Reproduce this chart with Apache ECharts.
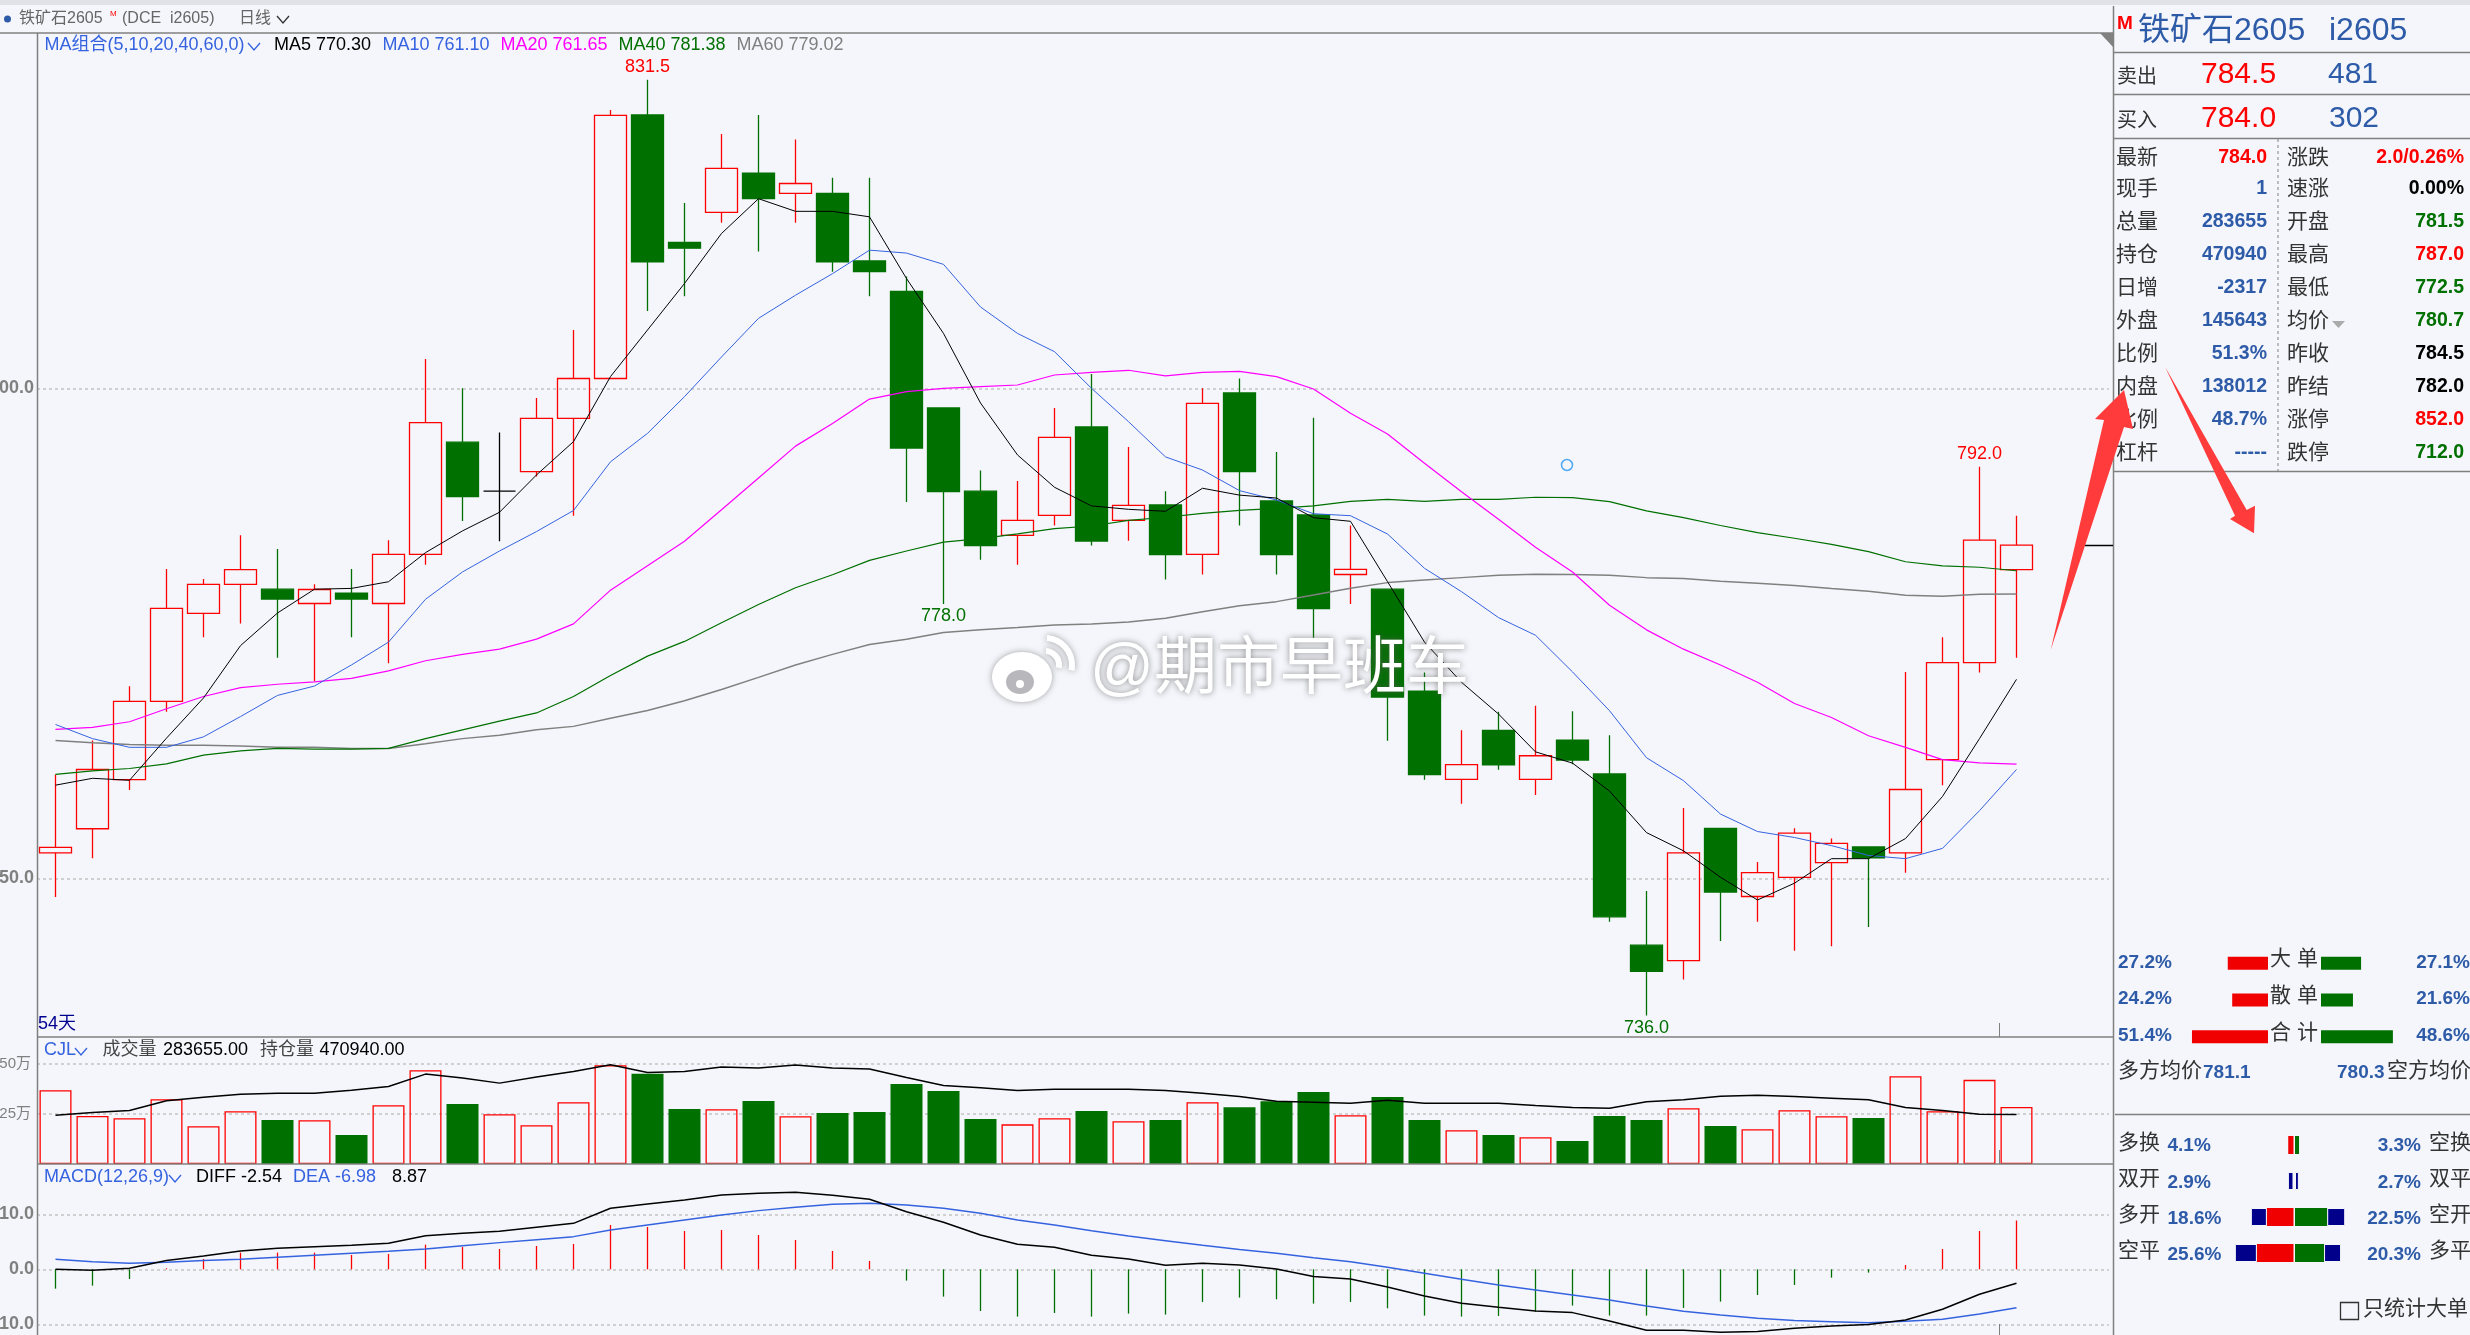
<!DOCTYPE html>
<html>
<head>
<meta charset="utf-8">
<title>铁矿石2605</title>
<script src="https://cdn.jsdelivr.net/npm/echarts@6/dist/echarts.min.js"></script>
<style>
html, body { margin: 0; padding: 0; background: #F5F6FB; }
#container { width: 2470px; height: 1335px; }
</style>
</head>
<body>
<div id="container"></div>
<script>
// candles
var opens = [752.6,755.05,760.06,768.05,777.04,780,779.5,778.04,779.1,778.04,783.05,794.5,789.5,791.5,796.94,801,827.9,814.9,817.96,821.97,819.9,819.9,813,809.9,798,789.5,785,787.04,796.05,786.53,788.09,783.06,799.52,788.5,787.07,781,779.5,769.1,760.1,765.1,760.1,764.1,760.64,743.17,741.6,755.1,748.14,750.1,751.6,753.2,752.6,762.1,772,781.5];
var closes = [753.15,761.1,768.05,777.54,780,781.5,778.5,779.47,778.5,783.05,796.5,788.95,789.5,796.94,801,827.86,812.9,814.3,822.45,819.35,820.9,812.9,811.9,793.9,789.45,783.95,786.53,795,784.42,788.06,783.03,798.47,791.5,783.03,777.52,781.53,768.5,760.57,761.6,761.57,762.5,762.07,746.06,740.5,752.6,748.6,750.58,754.6,753.55,752.08,759.06,772,784.5,784];
var lows = [748.1,752.05,759,767,774.6,776,772.5,770.1,774.6,771.95,782,786.45,784.4,791,787,801,807.9,809.4,816.9,813.95,816.9,811.9,809.4,788.4,778,782.5,782,786,783.95,784.45,780.5,781,786,781,774.55,778,764.04,760.06,757.6,761.07,758.5,761.64,745.56,736,739.66,743.6,745.56,742.6,743.06,745.03,750.57,759.5,771,772.5];
var highs = [760.6,764.07,769.6,781.55,780.54,785,783.6,780,781.55,784.5,803,800,795.5,799,805.95,828.4,831.5,818.9,825.95,827.9,825.4,821.5,821.5,811.4,798,791.6,790.54,798,801.46,794,789.5,800,801,793.5,797,786,779.5,771,765.1,767,767.6,767.05,764.6,748.7,757.16,755.1,751.65,755.1,754.05,753.2,771.05,774.6,792,787];

// moving averages
var ma5 = [759.5,760.2,760,764.3,768.4,773.74,777.07,779.5,779.58,780.26,783.23,785.45,787.35,791.16,794.56,801.2,805.95,810.7,815.8,819.35,818.06,818.06,817.5,811.2,805.6,798.5,793.2,789.9,788,787.65,787.45,789.8,789.1,788.8,786.8,786.43,780.27,774.1,770,766.76,762.9,761.75,758.9,754.66,752.8,750.1,747.78,749.5,752,752,754.05,758.35,764.25,770.3];
var ma10 = [765.69,764.25,763.36,763.36,764.43,766.5,768.66,769.62,771.77,774.1,778.47,781.26,783.4,785.38,787.53,792.5,795.4,799.15,803.2,807.14,809.5,811.7,814.1,813.8,812.65,808.3,805.6,803.74,800,796.6,793,791.66,789.56,788.6,787.2,787,785.13,781.63,779.25,776.6,774.8,771.06,767.1,762.3,759.96,756.55,754.77,754.16,753.33,752.33,752,753.05,756.9,761.1];
var ma20 = [765.2,765.4,765.97,767.3,768.55,769.45,769.8,770.05,770.4,771.16,772.2,772.85,773.38,774.4,775.96,779.4,781.9,784.4,787.6,790.85,794.1,796.4,798.9,799.66,800,800.17,800.34,801.36,801.63,801.84,801.26,801.63,801.73,801.19,799.93,797.45,795.34,792.35,789.45,786.63,783.77,781.26,777.86,775.35,773.38,771.77,770,767.83,766.4,764.54,763.36,762.1,761.78,761.65];
var ma40 = [760.6,760.96,761.2,761.67,762.57,763,763.25,763.18,763.18,763.25,764.25,765.15,766.04,766.87,768.55,770.7,772.67,774.17,776.07,777.93,779.65,780.97,782.44,783.4,784.3,784.66,785.14,785.68,785.95,786.53,786.84,787.24,787.55,787.75,788,788.47,788.67,788.47,788.67,788.67,788.88,788.84,788.44,787.5,786.8,786,785.27,784.7,784.08,783.33,782.3,781.87,781.74,781.38];
var ma60 = [764.07,763.82,763.64,763.57,763.57,763.5,763.36,763.36,763.25,763.25,763.72,764.25,764.6,765.15,765.5,766.33,767.12,768.12,769.27,770.5,771.77,772.85,773.85,774.39,775.07,775.35,775.58,775.85,775.95,776.16,776.53,777.2,777.82,778.23,778.9,779.59,780.17,780.44,780.68,780.92,781.02,780.99,780.92,780.68,780.58,780.31,780.1,779.87,779.56,779.29,778.88,778.78,778.98,779.02];

// volume (万手) and open interest (万手, own hidden scale)
var volume = [36.65,23.88,22.72,32.17,18.74,26.2,21.89,21.72,14.43,29.19,46.6,29.85,24.7,19.24,30.68,49.1,44.78,27.36,27.2,31.34,23.7,25.37,25.87,39.8,36.3,22.4,19.7,22.7,26.37,21.23,21.89,30.68,28.2,31.18,35.8,24.2,33.3,21.89,16.8,14.43,13.27,11.44,23.88,21.89,27.7,18.9,17.25,26.7,23.7,22.9,43.6,26.2,41.8,28.37];
var openInterest = [46.89,47.69,48.29,51.19,52.29,53.19,53.49,53.49,54.39,55.49,59.19,57.99,56.49,58.29,59.99,61.99,59.69,59.99,61.29,60.99,61.89,60.99,60.69,58.19,55.79,55.09,54.29,54.69,54.69,54.69,54.29,53.49,52.49,51.09,50.79,50.49,51.39,50.49,50.49,50.49,49.79,49.19,48.99,50.89,51.49,52.59,52.89,52.49,51.99,51.49,49.19,48.29,47.19,47.094];

// MACD
var diff = [0,-0.18,0.18,1.58,2.42,3.33,3.82,4.12,4.36,4.73,6.12,6.55,6.91,7.64,8.36,11.09,11.88,12.6,13.52,13.82,14,13.45,12.73,10.48,8.55,6.24,4.55,4,2.55,1.88,0.73,1.09,0.79,0.06,-1.33,-1.76,-3.21,-4.85,-6.18,-6.91,-7.58,-7.88,-9.39,-11.09,-11.09,-11.45,-11.33,-10.73,-10.3,-10.06,-9.21,-7.27,-4.55,-2.54];
var dea = [1.82,1.39,1.09,1.27,1.58,1.82,2.18,2.55,2.91,3.27,3.7,4.3,4.85,5.39,5.94,7.15,8.06,8.97,9.88,10.67,11.27,11.82,12,11.7,11.09,10.18,8.97,8.06,7.03,6.06,5.21,4.36,3.58,2.91,2.12,1.39,0.36,-0.73,-1.82,-2.85,-3.76,-4.67,-5.58,-6.67,-7.64,-8.3,-8.91,-9.33,-9.52,-9.7,-9.45,-9.09,-8.12,-6.98];
var macdHist = [-3.52,-2.97,-1.76,0.18,1.88,3.03,3.03,3.03,2.61,2.79,4.48,4.06,3.7,4.24,4.61,8.06,7.7,6.97,7.15,6.24,5.33,3.33,1.52,-2.06,-4.97,-7.58,-8.6,-7.94,-8.6,-8.06,-8.24,-5.94,-5.15,-5.45,-6.24,-5.94,-7.09,-8.42,-8.6,-8.48,-7.7,-6.6,-8.42,-8.42,-7.03,-5.88,-4.67,-2.85,-1.52,-0.6,0.79,3.7,6.97,8.87];

// labelled extremes: candle index, price, high or low
var extremeIndex = [16, 24, 43, 52];
var extremePrice = [831.5, 778.0, 736.0, 792.0];
var extremeIsHigh = [true, false, false, true];

var priceTicks = [750, 800];
var volumeTicks = [25, 50];
var macdTicks = [-10, 0, 10];

// side panel numbers
var quoteLeft = [['最新','784.0'],['现手','1'],['总量','283655'],['持仓','470940'],['日增','-2317'],['外盘','145643'],['比例','51.3%'],['内盘','138012'],['比例','48.7%'],['杠杆','-----']];
var quoteRight = [['涨跌','2.0/0.26%'],['速涨','0.00%'],['开盘','781.5'],['最高','787.0'],['最低','772.5'],['均价','780.7'],['昨收','784.5'],['昨结','782.0'],['涨停','852.0'],['跌停','712.0']];
var quoteRightColor = ['r','k','g','r','g','g','k','k','r','g'];

var orderRows = ['大 单', '散 单', '合 计'];
var orderBuy = [27.2, 24.2, 51.4];
var orderSell = [27.1, 21.6, 48.6];

var flowRows = ['换', '双', '开', '平'];
var flowLeftNames = ['多换', '双开', '多开', '空平'];
var flowRightNames = ['空换', '双平', '空开', '多平'];
var flowLeftPct = [4.1, 2.9, 18.6, 25.6];
var flowRightPct = [3.3, 2.7, 22.5, 20.3];
var flowLeftRed = [4.1, 0, 18.6, 25.6];
var flowLeftBlue = [0, 3.9, 11.2, 15.4];
var flowRightGreen = [3.3, 0, 22.5, 20.3];
var flowRightBlue = [0, 2.7, 12.6, 11.9];

var RED = '#FF0000', GREEN = '#007000', BLUE = '#2E5BA8', LINEBLUE = '#3563E0', GREY = '#808080', NAVY = '#000090', BG = '#F5F6FB';
var FONT = '"Liberation Sans","Noto Sans CJK SC",sans-serif';

var categories = opens.map(function (v, i) { return String(i + 1); }).concat(['+1', '+2']);
var candleData = opens.map(function (v, i) { return [v, closes[i], lows[i], highs[i]]; });

function upDown(i) { return closes[i] >= opens[i]; }

var volumeData = volume.map(function (v, i) {
    return upDown(i)
        ? { value: v, itemStyle: { color: 'rgba(0,0,0,0)', borderColor: RED, borderWidth: 1.3 } }
        : { value: v, itemStyle: { color: GREEN } };
});
var histData = macdHist.map(function (v) {
    return { value: v, itemStyle: { color: v >= 0 ? RED : GREEN } };
});
var extremeData = extremeIndex.map(function (idx, i) {
    var hi = extremeIsHigh[i];
    return {
        coord: [idx, extremePrice[i]],
        symbolSize: 1,
        itemStyle: { color: 'rgba(0,0,0,0)' },
        label: {
            show: true, formatter: extremePrice[i].toFixed(1), position: hi ? 'top' : 'bottom', distance: 3,
            color: hi ? RED : GREEN, fontSize: 18, fontFamily: FONT
        }
    };
});

function maLine(name, data, color, width) {
    return {
        name: name, type: 'line', data: data, xAxisIndex: 0, yAxisIndex: 0,
        symbol: 'none', z: 5, silent: true,
        lineStyle: { color: color, width: width || 1 }
    };
}

// text and decoration on top of the chart
var g = [];
function txt(x, y, s, color, size, align, weight) {
    g.push({
        type: 'text', x: x, y: y, z: 50, silent: true,
        style: {
            text: s, fill: color, align: align || 'left', verticalAlign: 'middle',
            fontSize: size, fontFamily: FONT, fontWeight: weight || 'normal'
        }
    });
}
function seg(x1, y1, x2, y2, color, w) {
    g.push({
        type: 'line', z: 40, silent: true,
        shape: { x1: x1, y1: y1, x2: x2, y2: y2 },
        style: { stroke: color || GREY, lineWidth: w || 1.5 }
    });
}
function chevron(x, y, color) {
    g.push({
        type: 'polyline', z: 50, silent: true,
        shape: { points: [[x, y], [x + 6, y + 7], [x + 12, y]] },
        style: { stroke: color, lineWidth: 1.3, fill: null }
    });
}
function poly(pts, color, z) {
    g.push({ type: 'polygon', z: z || 60, silent: true, shape: { points: pts }, style: { fill: color } });
}

// frame
g.push({ type: 'rect', z: 40, silent: true, shape: { x: 0, y: 0, width: 2470, height: 5 }, style: { fill: '#E1E2E7' } });
seg(0, 33, 2113, 33);
seg(37.5, 33, 37.5, 1335);
seg(37.5, 1037, 2113, 1037);
seg(37.5, 1164, 2113, 1164);
seg(2113.5, 6, 2113.5, 1335);
poly([[2100, 33], [2113, 33], [2113, 47]], GREY, 41);
seg(1999.5, 1023, 1999.5, 1037, GREY, 1);
seg(1999.5, 1150, 1999.5, 1164, GREY, 1);
seg(1999.5, 1324, 1999.5, 1335, GREY, 1);
seg(2085, 545.5, 2113, 545.5, '#000', 1.5);

// header
g.push({ type: 'circle', z: 50, silent: true, shape: { cx: 7.5, cy: 19, r: 3.5 }, style: { fill: '#2E5BA8' } });
txt(19, 19, '铁矿石2605', '#666', 16);
txt(110, 14, 'M', RED, 8);
txt(122, 19, '(DCE  i2605)', '#666', 16);
txt(239, 19, '日线', '#666', 16);
chevron(277, 16, '#333');

// MA legend
txt(44.5, 45, 'MA组合(5,10,20,40,60,0)', LINEBLUE, 18);
chevron(248, 43, LINEBLUE);
txt(274, 45, 'MA5 770.30', '#000', 18);
txt(382.5, 45, 'MA10 761.10', LINEBLUE, 18);
txt(500.5, 45, 'MA20 761.65', '#FF00FF', 18);
txt(618.5, 45, 'MA40 781.38', GREEN, 18);
txt(736.5, 45, 'MA60 779.02', GREY, 18);
txt(38, 1024.5, '54天', NAVY, 18);

// volume legend
txt(44, 1050, 'CJL', LINEBLUE, 18);
chevron(75, 1048, LINEBLUE);
txt(102.5, 1050, '成交量', '#444', 18);
txt(163, 1050, '283655.00', '#000', 18);
txt(260, 1050, '持仓量', '#444', 18);
txt(319.5, 1050, '470940.00', '#000', 18);

// MACD legend
txt(44, 1177, 'MACD(12,26,9)', LINEBLUE, 18);
chevron(169, 1175, LINEBLUE);
txt(196, 1177, 'DIFF -2.54', '#000', 18);
txt(293, 1177, 'DEA -6.98', LINEBLUE, 18);
txt(392, 1177, '8.87', '#000', 18);

// side panel head
txt(2117, 24, 'M', RED, 19, 'left', 'bold');
txt(2138, 31, '铁矿石2605', BLUE, 32);
txt(2329, 31, 'i2605', BLUE, 32);
seg(2114, 52.5, 2470, 52.5);
seg(2114, 94.5, 2470, 94.5);
seg(2114, 138.5, 2470, 138.5);
seg(2114, 471.5, 2470, 471.5);
txt(2117, 77, '卖出', '#333', 20);
txt(2201, 75, '784.5', RED, 30);
txt(2328, 75, '481', BLUE, 30);
txt(2117, 121, '买入', '#333', 20);
txt(2201, 119, '784.0', RED, 30);
txt(2329, 119, '302', BLUE, 30);

// quote table
var quoteY = [158, 189, 222, 255, 288, 321, 354, 387, 420, 453];
var rightColors = { r: RED, g: GREEN, k: '#000' };
quoteLeft.forEach(function (r, i) {
    txt(2116, quoteY[i], r[0], '#333', 21);
    txt(2267, quoteY[i], r[1], i === 0 ? RED : BLUE, 19.5, 'right', 'bold');
});
quoteRight.forEach(function (r, i) {
    txt(2287, quoteY[i], r[0], '#333', 21);
    txt(2464, quoteY[i], r[1], rightColors[quoteRightColor[i]], 19.5, 'right', 'bold');
});
g.push({
    type: 'line', z: 40, silent: true, shape: { x1: 2278, y1: 139, x2: 2278, y2: 471 },
    style: { stroke: GREY, lineWidth: 1, lineDash: [3, 3] }
});
poly([[2332, 321], [2345, 321], [2338.5, 328]], '#AAAAAA', 50);

// order summary text
var orderY = [963.5, 1000, 1037];
orderRows.forEach(function (r, i) {
    txt(2118, orderY[i] - 1, orderBuy[i].toFixed(1) + '%', BLUE, 19, 'left', 'bold');
    txt(2294, orderY[i] - 4, r, '#333', 21, 'center');
    txt(2470, orderY[i] - 1, orderSell[i].toFixed(1) + '%', BLUE, 19, 'right', 'bold');
});
txt(2118, 1071, '多方均价', '#333', 21);
txt(2203, 1073, '781.1', BLUE, 19, 'left', 'bold');
txt(2337, 1073, '780.3', BLUE, 19, 'left', 'bold');
txt(2387, 1071, '空方均价', '#333', 21);
seg(2115, 1114.5, 2470, 1114.5);

var flowY = [1145, 1181.5, 1217.5, 1253.5];
flowLeftNames.forEach(function (n, i) {
    txt(2118, flowY[i] - 2, n, '#333', 21);
    txt(2167.5, flowY[i] + 1, flowLeftPct[i].toFixed(1) + '%', BLUE, 19, 'left', 'bold');
    txt(2421, flowY[i] + 1, flowRightPct[i].toFixed(1) + '%', BLUE, 19, 'right', 'bold');
    txt(2429, flowY[i] - 2, flowRightNames[i], '#333', 21);
});
g.push({ type: 'rect', z: 50, silent: true, shape: { x: 2340.5, y: 1302.5, width: 18, height: 17 }, style: { fill: null, stroke: '#333', lineWidth: 1.3 } });
txt(2363, 1309, '只统计大单', '#333', 21);

// stray cursor ring
g.push({ type: 'circle', z: 50, silent: true, shape: { cx: 1567, cy: 465, r: 5.5 }, style: { fill: null, stroke: '#4DA9F2', lineWidth: 1.5 } });

// watermark
var wmShadow = { shadowBlur: 6, shadowColor: 'rgba(90,90,90,0.55)' };
g.push({ type: 'ellipse', z: 70, silent: true, shape: { cx: 1022, cy: 677, rx: 30, ry: 25 }, style: Object.assign({ fill: '#fff' }, wmShadow) });
g.push({ type: 'ellipse', z: 71, silent: true, shape: { cx: 1020, cy: 682, rx: 14, ry: 12 }, style: { fill: '#B8B8BC' } });
g.push({ type: 'circle', z: 72, silent: true, shape: { cx: 1020, cy: 684, r: 4 }, style: { fill: '#fff' } });
g.push({ type: 'arc', z: 70, silent: true, shape: { cx: 1045, cy: 665, r: 14, startAngle: -1.5, endAngle: 0.2 }, style: Object.assign({ stroke: '#fff', fill: null, lineWidth: 6 }, wmShadow) });
g.push({ type: 'arc', z: 70, silent: true, shape: { cx: 1045, cy: 665, r: 27, startAngle: -1.5, endAngle: 0.2 }, style: Object.assign({ stroke: '#fff', fill: null, lineWidth: 6 }, wmShadow) });
g.push({
    type: 'text', x: 1090, y: 671, z: 70, silent: true,
    style: {
        text: '@期市早班车', fill: '#fff', align: 'left', verticalAlign: 'middle',
        fontSize: 63, fontFamily: FONT, textShadowBlur: 6, textShadowColor: 'rgba(90,90,90,0.7)'
    }
});

// hand drawn red arrows
poly([[2050.7, 650], [2104, 420], [2095, 419], [2124, 390], [2133, 429], [2124, 427]], '#FF3B3B');
poly([[2165, 366.7], [2246.7, 510], [2255, 505.7], [2254, 533.3], [2230, 519], [2235, 515.7]], '#FF3B3B');

function hiddenCatX(idx) {
    return { type: 'category', gridIndex: idx, data: categories, show: false };
}
function priceAxis(idx, min, max, ticks, fmt, margin, size, weight) {
    return {
        type: 'value', gridIndex: idx, min: min, max: max, scale: true,
        axisLine: { show: false },
        axisTick: { show: false, customValues: ticks },
        axisLabel: { customValues: ticks, formatter: fmt, margin: margin, color: GREY, fontSize: size, fontFamily: FONT, fontWeight: weight || 'normal' },
        splitLine: { show: true, lineStyle: { color: '#C4C4C4', width: 1.5, type: [3, 3] } }
    };
}
// outerBoundsMode none: the labels are allowed to run off the left edge, as in the picture
function mainGrid(top, height) {
    return { left: 37, top: top, width: 2072, height: height, outerBoundsMode: 'none' };
}
function sideGrid(left, top, height) {
    return { left: left, top: top, width: 100, height: height, outerBoundsMode: 'none' };
}
function sideX(idx, max, inverse) {
    return { type: 'value', gridIndex: idx, min: 0, max: max, inverse: inverse, show: false };
}
function sideY(idx, cats) {
    return { type: 'category', gridIndex: idx, data: cats, inverse: true, show: false };
}
function sideBar(idx, data, color, width, stack, border) {
    return {
        type: 'bar', xAxisIndex: idx, yAxisIndex: idx + 1, data: data, barWidth: width, stack: stack, silent: true,
        itemStyle: border ? { color: color, borderColor: BG, borderWidth: 1 } : { color: color }
    };
}

var option = {
    animation: false,
    backgroundColor: BG,
    textStyle: { fontFamily: FONT },
    grid: [
        mainGrid(33, 1004),
        mainGrid(1037, 127),
        mainGrid(1164, 171),
        sideGrid(2168, 945, 110),
        sideGrid(2321, 945, 110),
        sideGrid(2193.5, 1127, 144),
        sideGrid(2295, 1127, 144)
    ],
    xAxis: [
        hiddenCatX(0), hiddenCatX(1), hiddenCatX(2),
        sideX(3, 67.6, true), sideX(4, 67.6, false),
        sideX(5, 69.9, true), sideX(6, 69.9, false)
    ],
    yAxis: [
        priceAxis(0, 733.8, 836.26, priceTicks, function (v) { return v.toFixed(1); }, 3, 18, 'bold'),
        priceAxis(1, 0, 63.1, volumeTicks, function (v) { return v + '万'; }, 6, 15),
        // 持仓量 has its own scale, no labels in the picture
        { type: 'value', gridIndex: 1, min: 32.29, max: 70.29, show: false, splitLine: { show: false } },
        priceAxis(2, -11.95, 19.15, macdTicks, function (v) { return v.toFixed(1); }, 3, 18, 'bold'),
        sideY(3, orderRows), sideY(4, orderRows), sideY(5, flowRows), sideY(6, flowRows)
    ],
    graphic: { elements: g },
    series: [
        {
            type: 'candlestick', xAxisIndex: 0, yAxisIndex: 0, data: candleData, barWidth: 32, z: 3, silent: true, clip: false,
            itemStyle: {
                color: 'rgba(0,0,0,0)', color0: GREEN,
                borderColor: RED, borderColor0: GREEN, borderColorDoji: '#000', borderWidth: 1.3
            },
            markPoint: { symbol: 'circle', silent: true, animation: false, data: extremeData }
        },
        maLine('MA60', ma60, GREY, 1.5),
        maLine('MA40', ma40, GREEN, 1.2),
        maLine('MA20', ma20, '#FF00FF', 1.2),
        maLine('MA10', ma10, LINEBLUE),
        maLine('MA5', ma5, '#000'),
        { type: 'bar', xAxisIndex: 1, yAxisIndex: 1, data: volumeData, barWidth: 32, silent: true },
        {
            type: 'line', xAxisIndex: 1, yAxisIndex: 2, data: openInterest, symbol: 'none', silent: true, z: 5,
            lineStyle: { color: '#000', width: 1.5 }
        },
        { type: 'bar', xAxisIndex: 2, yAxisIndex: 3, data: histData, barWidth: 1.3, silent: true },
        { type: 'line', xAxisIndex: 2, yAxisIndex: 3, data: dea, symbol: 'none', silent: true, z: 5, lineStyle: { color: LINEBLUE, width: 1.5 } },
        { type: 'line', xAxisIndex: 2, yAxisIndex: 3, data: diff, symbol: 'none', silent: true, z: 5, lineStyle: { color: '#000', width: 1.5 } },
        sideBar(3, orderBuy, '#F00000', 13),
        sideBar(4, orderSell, GREEN, 13),
        sideBar(5, flowLeftRed, '#F00000', 18, 'l'),
        sideBar(5, flowLeftBlue, '#00008B', 18, 'l', true),
        sideBar(6, flowRightGreen, GREEN, 18, 'r'),
        sideBar(6, flowRightBlue, '#00008B', 18, 'r', true)
    ]
};

document.addEventListener('DOMContentLoaded', function () {
    var myChart = echarts.init(document.getElementById('container'));
    myChart.setOption(option);
    window.addEventListener('resize', myChart.resize);
});
</script>
</body>
</html>
